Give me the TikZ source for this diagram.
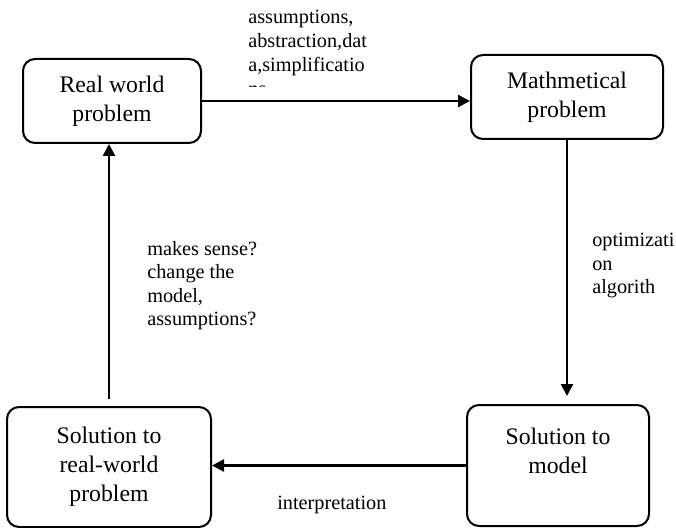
\documentclass[tikz,border=0pt]{standalone}
\usepackage{fontspec}
\setmainfont{Liberation Serif}
\usepackage{tikz}
\usetikzlibrary{arrows.meta,positioning,calc}
\definecolor{ink}{HTML}{000000}

\begin{document}
\begin{tikzpicture}[
    x=0.75pt, y=-0.75pt,
    stage/.style={rectangle, rounded corners=9pt, draw=ink, line width=1.5pt,
                  text=ink, align=center, inner sep=0pt,
                  font=\fontsize{17.8}{21.8}\selectfont},
    note/.style={anchor=north west, inner sep=0pt, align=left, text=ink,
                 font=\fontsize{15.2}{17.6}\selectfont},
    arrow/.style={-{Triangle[length=9pt,width=9pt]}, line width=1.9pt, draw=ink}
]
\useasboundingbox (0,0) rectangle (676,528);

% Stages of the cycle
\node[stage, minimum width=133.5pt, minimum height=63pt] (real) at (112,101) {Real world\\problem};
\node[stage, minimum width=144pt, minimum height=63pt] (math) at (567,97) {Mathmetical\\problem};
\node[stage, minimum width=136.5pt, minimum height=90.75pt] (solm) at (558,465.5) {Solution to\\model\\~};
\node[stage, minimum width=153pt, minimum height=90pt] (solr) at (109,467) {Solution to\\real-world\\problem};

% Arrows
\draw[arrow] (real.east) -- (real.east -| math.west);
\draw[arrow, shorten >=6pt] (math.south) -- (math.south |- solm.north);
\draw[arrow] (solm.west) -- (solm.west -| solr.east);
\draw[arrow, shorten <=5pt] (solr.north) -- (solr.north |- real.south);

% Notes on the arrows
\begin{scope}
  \clip (240,0) rectangle (440,87);
  \node[note, font=\fontsize{15.2}{18}\selectfont] (assume) at (248,10) {assumptions,\\abstraction,dat\\a,simplificatio\\ns};
\end{scope}
\node[note] (optim) at (592,233) {optimizati\\on\\algorith};
\node[note] (sense) at (147,241) {makes sense?\\change the\\model,\\assumptions?};
\node[note] (interp) at (277,496) {interpretation};

\end{tikzpicture}
\end{document}
